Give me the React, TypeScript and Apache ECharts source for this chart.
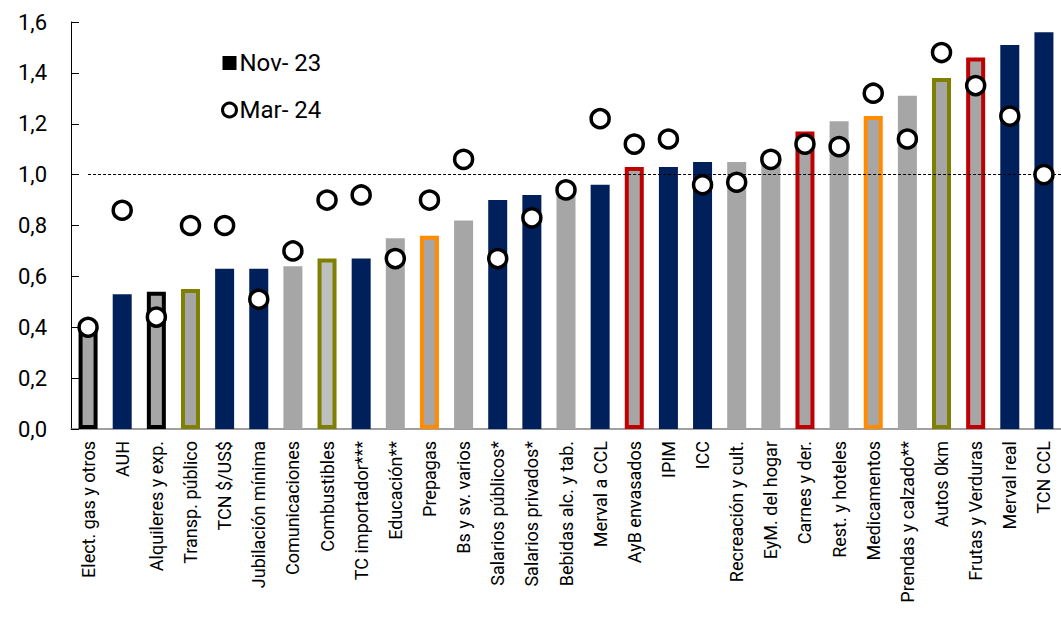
import React, { useEffect, useRef } from "react";
import * as echarts from "echarts";

const categories = [
  "Elect. gas y otros", "AUH", "Alquileres y exp.", "Transp. público", "TCN $/US$",
  "Jubilación mínima", "Comunicaciones", "Combustibles", "TC importador***", "Educación**",
  "Prepagas", "Bs y sv. varios", "Salarios públicos*", "Salarios privados*", "Bebidas alc. y tab.",
  "Merval a CCL", "AyB envasados", "IPIM", "ICC", "Recreación y cult.",
  "EyM. del hogar", "Carnes y der.", "Rest. y hoteles", "Medicamentos", "Prendas y calzado**",
  "Autos 0km", "Frutas y Verduras", "Merval real", "TCN CCL",
];

const nov23 = [
  0.38, 0.53, 0.54, 0.55, 0.63,
  0.63, 0.64, 0.67, 0.67, 0.75,
  0.76, 0.82, 0.90, 0.92, 0.95,
  0.96, 1.03, 1.03, 1.05, 1.05,
  1.06, 1.17, 1.21, 1.23, 1.31,
  1.38, 1.46, 1.51, 1.56,
];

const mar24 = [
  0.40, 0.86, 0.44, 0.80, 0.80,
  0.51, 0.70, 0.90, 0.92, 0.67,
  0.90, 1.06, 0.67, 0.83, 0.94,
  1.22, 1.12, 1.14, 0.96, 0.97,
  1.06, 1.12, 1.11, 1.32, 1.14,
  1.48, 1.35, 1.23, 1.00,
];

// bar kind per category: n = navy, g = gray, l = light gray; second letter = border colour
const barKinds = [
  "gK", "n", "gK", "gO", "n",
  "n", "g", "lO", "n", "g",
  "gY", "g", "n", "n", "g",
  "n", "gR", "n", "n", "g",
  "g", "gR", "g", "gY", "g",
  "gO", "gR", "n", "n",
];

const yTicks = [0, 0.2, 0.4, 0.6, 0.8, 1.0, 1.2, 1.4, 1.6];

const NAVY = "#00205B";
const GRAY = "#A6A6A6";
const LIGHT = "#BFBFBF";
const borderColors: Record<string, string> = {
  K: "#000000",
  O: "#7F7F00",
  Y: "#FF8C00",
  R: "#C00000",
};

function styleFor(kind: string) {
  if (kind === "n") return { color: NAVY };
  const fill = kind[0] === "l" ? LIGHT : GRAY;
  const b = kind[1];
  if (!b) return { color: fill };
  return { color: fill, borderColor: borderColors[b], borderWidth: 4 };
}

export default function App() {
  const ref = useRef<HTMLDivElement>(null);
  useEffect(() => {
    if (!ref.current) return;
    const chart = echarts.init(ref.current, undefined, { renderer: "svg" });
    const font = "Roboto";
    chart.setOption({
      animation: false,
      textStyle: { fontFamily: font },
      grid: { left: 71, right: -4, top: 22, bottom: 213, containLabel: false },
      legend: {
        orient: "vertical",
        left: 216,
        top: 46,
        itemGap: 23,
        itemWidth: 14,
        itemHeight: 14,
        textStyle: { fontFamily: font, fontSize: 24, color: "#000", padding: [0, 0, 0, -2] },
        data: [
          { name: "Nov- 23", icon: "rect", itemStyle: { color: "#000", borderWidth: 0 } },
          { name: "Mar- 24", icon: "circle", itemStyle: { color: "#fff", borderColor: "#000", borderWidth: 3 } },
        ],
      },
      xAxis: {
        type: "category",
        data: categories,
        boundaryGap: true,
        axisLine: { lineStyle: { color: "#808080", width: 1.5 } },
        axisTick: { inside: true, length: 5, lineStyle: { color: "#606060" }, alignWithLabel: false },
        axisLabel: {
          rotate: 90,
          interval: 0,
          fontFamily: font,
          fontSize: 18,
          color: "#000",
          margin: 12,
        },
      },
      yAxis: {
        type: "value",
        min: 0,
        max: 1.6,
        interval: 0.2,
        axisLine: { show: true, lineStyle: { color: "#000", width: 1 } },
        axisTick: { show: true, inside: true, length: 8, lineStyle: { color: "#000" } },
        splitLine: { show: false },
        axisLabel: {
          fontFamily: font,
          fontSize: 22,
          color: "#000",
          margin: 24,
          formatter: (v: number) => {
            const t = yTicks.find((x) => Math.abs(x - v) < 1e-6);
            return (t !== undefined ? t : v).toFixed(1).replace(".", ",");
          },
        },
      },
      series: [
        {
          name: "Nov- 23",
          type: "bar",
          barWidth: 19,
          data: nov23.map((v, i) => ({ value: v, itemStyle: styleFor(barKinds[i]) })),
          markLine: {
            silent: true,
            symbol: "none",
            label: { show: false },
            lineStyle: { color: "#000", type: [3, 2], width: 1 },
            data: [[{ coord: [0, 1] }, { coord: [categories.length - 1, 1], x: 1061 }]],
          },
          z: 2,
        },
        {
          name: "Mar- 24",
          type: "scatter",
          symbol: "circle",
          symbolSize: 18,
          data: mar24,
          itemStyle: { color: "#fff", borderColor: "#000", borderWidth: 3.5, opacity: 1 },
          z: 5,
        },
      ],
    });
    return () => chart.dispose();
  }, []);
  return (
    <div
      ref={ref}
      style={{ position: "fixed", left: 0, top: 0, width: 1061, height: 642, background: "#fff" }}
    />
  );
}
